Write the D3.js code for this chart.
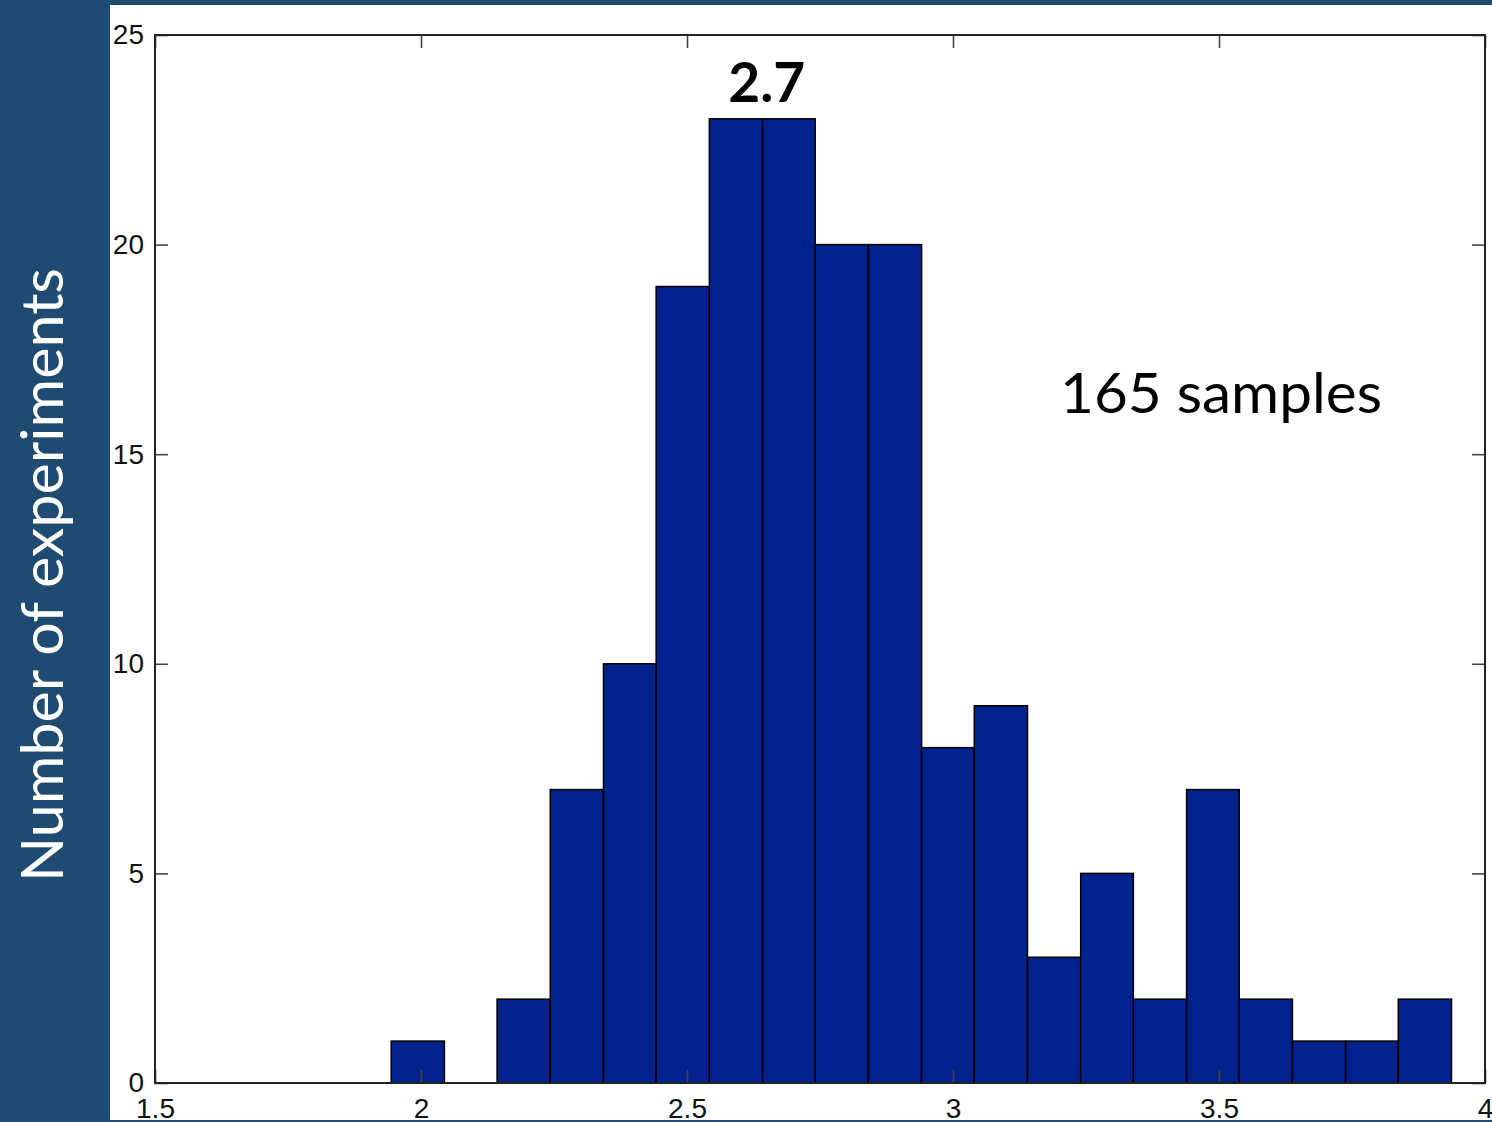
<!DOCTYPE html>
<html lang="en">
    <head>
        <meta charset="utf-8">
        <title>Number of experiments histogram</title>
        <script type="text/javascript" src="https://cdn.jsdelivr.net/npm/d3@7/dist/d3.min.js"></script>
        <style>
            body { margin: 0; }
        </style>
    </head>
    <body>
    <svg width='1492' height='1122'></svg>
        <script type="text/javascript">
            // histogram bins (edges) and counts
            var binEdges = [1.944, 2.044, 2.143, 2.243, 2.343, 2.442, 2.542, 2.642, 2.741, 2.841,
                            2.941, 3.040, 3.140, 3.240, 3.339, 3.439, 3.538, 3.638, 3.738, 3.837, 3.937];
            var counts = [1, 0, 2, 7, 10, 19, 23, 23, 20, 20, 8, 9, 3, 5, 2, 7, 2, 1, 1, 2];
            var xTicks = [1.5, 2, 2.5, 3, 3.5, 4];
            var yTicks = [0, 5, 10, 15, 20, 25];
            var yLabel = "Number of experiments";
            var peakLabel = "2.7";
            var peakAt = 2.65;
            var sampleLabel = "165 samples";

            var svg = d3.select('svg'),
                W = +svg.attr('width'),
                H = +svg.attr('height');

            // plot box edges (don't call these top/left, window.top is taken)
            var pL = 155, pR = 1485, pT = 35, pB = 1083;

            // slide background
            svg.append("rect").attr("width", W).attr("height", H).attr("fill", "#1f4a72");
            svg.append("rect").attr("x", 110).attr("y", 5)
                .attr("width", W - 110).attr("height", 1115).attr("fill", "white");

            var x = d3.scaleLinear().domain([1.5, 4]).range([pL, pR]),
                y = d3.scaleLinear().domain([0, 25]).range([pB, pT]);

            var bins = counts.map(function(c, i) {
                return {x0: binEdges[i], x1: binEdges[i + 1], n: c};
            });

            var g = svg.append("g");

            // zero-height bins still draw a flat line like matlab
            g.selectAll(".bar")
                .data(bins)
                .enter().append("rect")
                .attr("class", "bar")
                .attr("x", function(d) { return x(d.x0); })
                .attr("y", function(d) { return y(d.n); })
                .attr("width", function(d) { return x(d.x1) - x(d.x0); })
                .attr("height", function(d) { return y(0) - y(d.n); })
                .attr("fill", "#01228d")
                .attr("stroke", "black")
                .attr("stroke-width", 1.5);

            // axes, ticks pointing inward on all four sides
            var tickLen = 13;
            var axisStyle = function(sel) {
                sel.select(".domain").remove();
                sel.attr("font-size", null).attr("font-family", null);
                sel.selectAll(".tick line").attr("stroke", "#444").attr("stroke-width", 1.6);
                sel.selectAll(".tick text")
                    .attr("font-family", "'Liberation Sans', Arial, sans-serif")
                    .attr("font-size", "28px")
                    .attr("fill", "#111");
            };

            g.append("g")
                .attr("transform", "translate(0," + pB + ")")
                .call(d3.axisBottom(x).tickValues(xTicks).tickFormat(d3.format("")).tickSizeInner(-tickLen).tickSizeOuter(0).tickPadding(15))
                .call(axisStyle);

            g.append("g")
                .attr("transform", "translate(0," + pT + ")")
                .call(d3.axisTop(x).tickValues(xTicks).tickSizeInner(-tickLen).tickSizeOuter(0).tickFormat(""))
                .call(axisStyle);

            g.append("g")
                .attr("transform", "translate(" + pL + ",0)")
                .call(d3.axisLeft(y).tickValues(yTicks).tickSizeInner(-tickLen).tickSizeOuter(0).tickPadding(11))
                .call(axisStyle);

            g.append("g")
                .attr("transform", "translate(" + pR + ",0)")
                .call(d3.axisRight(y).tickValues(yTicks).tickSizeInner(-tickLen).tickSizeOuter(0).tickFormat(""))
                .call(axisStyle);

            // plot box
            g.append("rect")
                .attr("x", pL).attr("y", pT)
                .attr("width", pR - pL).attr("height", pB - pT)
                .attr("fill", "none")
                .attr("stroke", "#222")
                .attr("stroke-width", 2);

            // blue strip at the bottom hides part of the x labels
            svg.append("rect").attr("x", 0).attr("y", 1120)
                .attr("width", W).attr("height", 2).attr("fill", "#1f4a72");

            svg.append("text")
                .attr("transform", "translate(63," + 575 + ") rotate(-90)")
                .attr("text-anchor", "middle")
                .attr("font-family", "Lato, 'Open Sans', sans-serif")
                .attr("font-size", "58px")
                .attr("fill", "white")
                .attr("textLength", 614)
                .attr("lengthAdjust", "spacingAndGlyphs")
                .text(yLabel);

            svg.append("text")
                .attr("x", x(peakAt))
                .attr("y", 102)
                .attr("text-anchor", "middle")
                .attr("font-family", "Lato, 'Open Sans', sans-serif")
                .attr("font-weight", "bold")
                .attr("font-size", "56px")
                .attr("textLength", 77)
                .attr("lengthAdjust", "spacingAndGlyphs")
                .text(peakLabel);

            svg.append("text")
                .attr("x", 1060)
                .attr("y", 413)
                .attr("font-family", "Lato, 'Open Sans', sans-serif")
                .attr("font-size", "56px")
                .attr("textLength", 322)
                .attr("lengthAdjust", "spacingAndGlyphs")
                .text(sampleLabel);
        </script>
    </body>
</html>
